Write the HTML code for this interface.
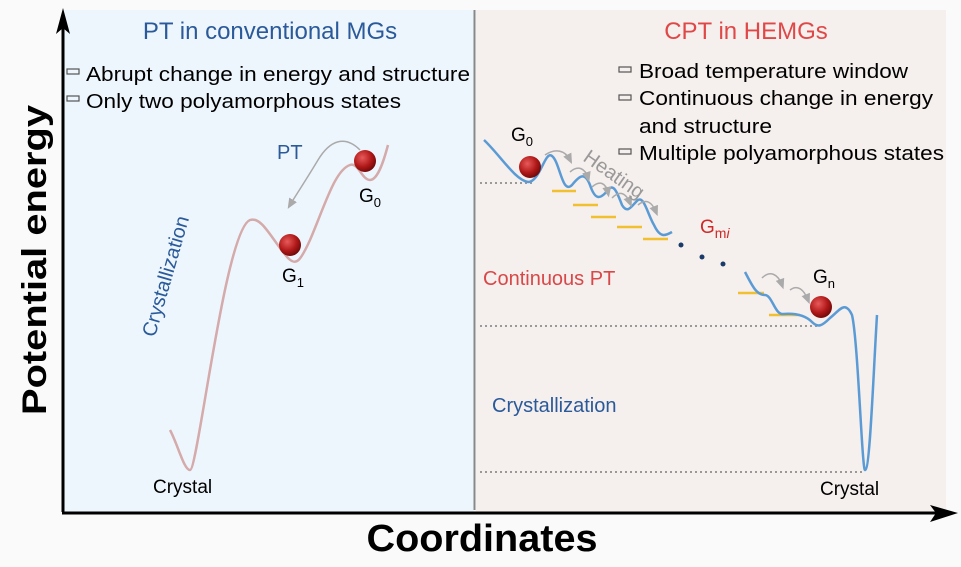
<!DOCTYPE html>
<html><head><meta charset="utf-8"><style>
html,body{margin:0;padding:0;background:#fafafa}
svg{display:block;font-family:"Liberation Sans",sans-serif}
</style></head><body>
<svg width="961" height="567" viewBox="0 0 961 567">
<defs>
<radialGradient id="ball" cx="0.38" cy="0.35" r="0.7">
<stop offset="0" stop-color="#e85a5a"/><stop offset="0.6" stop-color="#b01818"/><stop offset="1" stop-color="#6a0808"/></radialGradient>
<marker id="ga" markerWidth="8" markerHeight="8" refX="4" refY="4" orient="auto"><path d="M0,1 L7,4 L0,7 Z" fill="#aaa"/></marker>
</defs>
<rect x="64" y="10" width="410" height="502" fill="#eef6fd"/>
<rect x="476" y="10" width="470" height="502" fill="#f5efed"/>
<line x1="474.5" y1="10" x2="474.5" y2="510" stroke="#888" stroke-width="2"/>
<line x1="63" y1="512" x2="63" y2="25" stroke="#000" stroke-width="3"/>
<path d="M63,8 L70,34 L63,28 L56,34 Z" fill="#000"/>
<line x1="62" y1="513" x2="940" y2="513" stroke="#000" stroke-width="3"/>
<path d="M958,513 L930,505 L936,513 L930,522 Z" fill="#000"/>
<text x="46" y="260" font-size="34" font-weight="bold" text-anchor="middle" textLength="310" lengthAdjust="spacingAndGlyphs" transform="rotate(-90 46 260)">Potential energy</text>
<text x="482" y="551" font-size="38" font-weight="bold" text-anchor="middle" textLength="231" lengthAdjust="spacingAndGlyphs">Coordinates</text>
<text x="270" y="39" font-size="24" fill="#2a5a9a" text-anchor="middle">PT in conventional MGs</text>
<text x="746" y="39" font-size="24" fill="#e04848" text-anchor="middle">CPT in HEMGs</text>
<g font-size="20" fill="#000">
<rect x="67" y="69" width="12" height="5" fill="none" stroke="#555" stroke-width="1.2"/>
<text x="86" y="81" textLength="384" lengthAdjust="spacingAndGlyphs">Abrupt change in energy and structure</text>
<rect x="67" y="96" width="12" height="5" fill="none" stroke="#555" stroke-width="1.2"/>
<text x="86" y="108" textLength="315" lengthAdjust="spacingAndGlyphs">Only two polyamorphous states</text>
<rect x="619" y="67" width="12" height="5" fill="none" stroke="#555" stroke-width="1.2"/>
<text x="639" y="78" textLength="269" lengthAdjust="spacingAndGlyphs">Broad temperature window</text>
<rect x="619" y="95" width="12" height="5" fill="none" stroke="#555" stroke-width="1.2"/>
<text x="639" y="105" textLength="294" lengthAdjust="spacingAndGlyphs">Continuous change in energy</text>
<text x="639" y="133" textLength="133" lengthAdjust="spacingAndGlyphs">and structure</text>
<rect x="619" y="149" width="12" height="5" fill="none" stroke="#555" stroke-width="1.2"/>
<text x="639" y="160" textLength="305" lengthAdjust="spacingAndGlyphs">Multiple polyamorphous states</text>
</g>
<path d="M170,430 C178,445 184,470 190,470 C198,470 225,230 250,220 C262,216 272,240 288,258 C296,266 300,262 310,240 C325,205 335,170 350,165 C358,162 362,180 370,180 C378,180 384,160 388,145" fill="none" stroke="#d4aaaa" stroke-width="2.5"/>
<path d="M360,150 C345,135 330,140 318,160 C306,180 296,195 290,205" fill="none" stroke="#aaa" stroke-width="1.5" marker-end="url(#ga)"/>
<circle cx="290" cy="245" r="11" fill="url(#ball)"/>
<circle cx="365" cy="161" r="11" fill="url(#ball)"/>
<text x="277" y="159" font-size="20" fill="#2a5a9a">PT</text>
<text x="359" y="202" font-size="19">G<tspan font-size="13" dy="5">0</tspan></text>
<text x="282" y="282" font-size="19">G<tspan font-size="13" dy="5">1</tspan></text>
<text x="172" y="278" font-size="20" fill="#2a5a9a" transform="rotate(-74 172 278)" text-anchor="middle">Crystallization</text>
<text x="153" y="493" font-size="19">Crystal</text>
<g stroke="#999" stroke-width="2" stroke-dasharray="2,3">
<line x1="480" y1="183" x2="535" y2="183"/>
<line x1="480" y1="326" x2="820" y2="326"/>
<line x1="480" y1="472" x2="865" y2="472"/>
</g>
<g stroke="#f0c030" stroke-width="2.5">
<line x1="552" y1="191" x2="576" y2="191"/>
<line x1="573" y1="205" x2="598" y2="205"/>
<line x1="591" y1="217" x2="616" y2="217"/>
<line x1="617" y1="227" x2="642" y2="227"/>
<line x1="643" y1="239" x2="668" y2="239"/>
<line x1="738" y1="293" x2="764" y2="293"/>
<line x1="769" y1="315" x2="800" y2="315"/>
</g>
<path d="M484,140 C500,155 515,180 528,182 C540,182 545,150 552,156 C560,162 562,195 572,185 C580,175 585,172 590,185 C595,200 600,200 608,190 C614,182 618,195 622,205 C628,215 632,205 638,200 C644,196 648,215 654,225 C660,238 665,236 672,232" fill="none" stroke="#5b9bd5" stroke-width="2.5"/>
<path d="M745,272 C752,285 756,295 765,295 C772,295 775,315 783,314 C795,313 805,315 812,322 C818,328 822,326 830,318 C840,310 845,300 852,315 C858,340 862,470 865,470 C870,470 873,380 877,315" fill="none" stroke="#5b9bd5" stroke-width="2.5"/>
<g fill="#1a3a6a"><circle cx="681" cy="245" r="2.5"/><circle cx="702" cy="257" r="2.5"/><circle cx="723" cy="264" r="2.5"/></g>
<g fill="none" stroke="#aaa" stroke-width="1.5" marker-end="url(#ga)">
<path d="M545,155 C555,148 565,150 570,160"/>
<path d="M570,172 C578,165 585,168 588,178"/>
<path d="M592,187 C600,180 606,183 608,193"/>
<path d="M612,198 C620,190 626,193 630,203"/>
<path d="M638,205 C646,198 652,202 656,212"/>
<path d="M762,278 C770,270 778,274 782,285"/>
<path d="M790,290 C798,284 804,290 808,300"/>
</g>
<text x="582" y="160" font-size="20" fill="#999" transform="rotate(35 582 160)">Heating</text>
<circle cx="530" cy="167" r="11" fill="url(#ball)"/>
<circle cx="821" cy="307" r="11" fill="url(#ball)"/>
<text x="511" y="141" font-size="19">G<tspan font-size="13" dy="5">0</tspan></text>
<text x="813" y="283" font-size="19">G<tspan font-size="13" dy="5">n</tspan></text>
<text x="700" y="233" font-size="19" fill="#d02828">G<tspan font-size="14" dy="5">m<tspan font-style="italic">i</tspan></tspan></text>
<text x="483" y="285" font-size="20" fill="#d84848">Continuous PT</text>
<text x="492" y="412" font-size="20" fill="#2a5a9a">Crystallization</text>
<text x="820" y="495" font-size="19">Crystal</text>
</svg>
</body></html>
